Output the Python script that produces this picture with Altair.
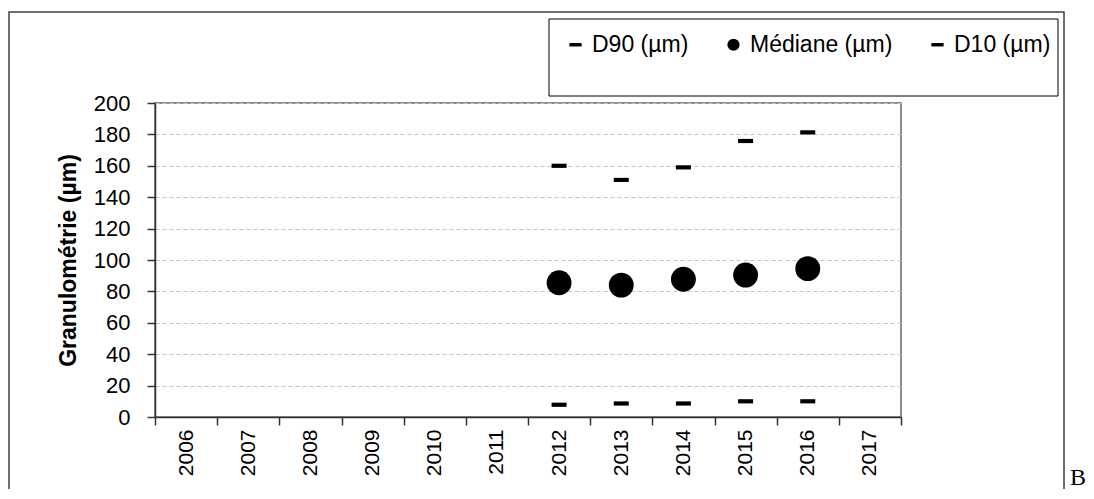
import altair as alt
import pandas as pd

annees = [str(a) for a in range(2006, 2018)]
annees_mesure = ["2012", "2013", "2014", "2015", "2016"]
d90 = [160, 151, 159, 175.8, 181.3]
mediane = [85.5, 84.0, 87.7, 90.4, 94.5]
d10 = [7.8, 8.6, 8.6, 10.0, 10.0]
series = ["D90 (µm)", "Médiane (µm)", "D10 (µm)"]

rows = []
for a, v in zip(annees_mesure, d90):
    rows.append({"annee": a, "serie": series[0], "valeur": v})
for a, v in zip(annees_mesure, mediane):
    rows.append({"annee": a, "serie": series[1], "valeur": v})
for a, v in zip(annees_mesure, d10):
    rows.append({"annee": a, "serie": series[2], "valeur": v})
df = pd.DataFrame(rows)

FONT = "Liberation Sans"
DARK = "#333333"
dash = "M-1,-0.28H1V0.28H-1Z"

x_enc = alt.X(
    "annee:O",
    scale=alt.Scale(domain=annees, paddingInner=0, paddingOuter=0),
    axis=alt.Axis(
        title=None, labelAngle=270, labelAlign="right", labelBaseline="middle",
        tickBand="extent", tickSize=8, tickColor=DARK, tickWidth=1.5,
        domainColor=DARK, domainWidth=1.5, labelFont=FONT, labelFontSize=21,
        labelColor="black", labelPadding=4, grid=False,
    ),
)
y_enc = alt.Y(
    "valeur:Q",
    scale=alt.Scale(domain=[0, 200], nice=False, zero=True),
    axis=alt.Axis(
        values=list(range(0, 201, 20)), grid=True, gridColor="#c4c4c4",
        gridDash=[4, 3], gridWidth=1, tickSize=8, tickColor=DARK, tickWidth=1.5,
        domainColor=DARK, domainWidth=1.5, labelFont=FONT, labelFontSize=22,
        labelColor="black", labelPadding=17,
        title="Granulométrie (µm)", titleFont=FONT, titleFontSize=23,
        titleFontWeight="bold", titleColor="black", titleAngle=270,
        titleX=-87, titleY=157, titleAlign="center", titleBaseline="middle",
    ),
)
legend = alt.Legend(
    title=None, orient="none", legendX=409, legendY=-70, direction="horizontal",
    columns=3, padding=0, labelFont=FONT, labelFontSize=23, labelColor="black",
    symbolSize=150, symbolFillColor="black", symbolStrokeColor="black",
    symbolStrokeWidth=0, labelOffset=5, columnPadding=33,
)
shape_enc = alt.Shape(
    "serie:N",
    scale=alt.Scale(domain=series, range=[dash, "circle", dash]),
    legend=legend,
)

one = pd.DataFrame({"k": [0]})
frame = alt.Chart(one).mark_rect(filled=False, stroke="#404040", strokeWidth=1.5).encode(
    x=alt.value(-146), x2=alt.value(909), y=alt.value(-91), y2=alt.value(420)
)
legend_box = alt.Chart(one).mark_rect(filled=False, stroke="black", strokeWidth=1).encode(
    x=alt.value(394), x2=alt.value(903), y=alt.value(-84), y2=alt.value(-7)
)
dashes = alt.Chart(df).transform_filter(
    alt.FieldOneOfPredicate(field="serie", oneOf=[series[0], series[2]])
).mark_point(filled=True, size=225, opacity=1).encode(
    x=x_enc, y=y_enc, shape=shape_enc, color=alt.value("black")
)
circles = alt.Chart(df).transform_filter(
    alt.FieldEqualPredicate(field="serie", equal=series[1])
).mark_point(filled=True, size=620, opacity=1).encode(
    x=x_enc, y=y_enc, shape=shape_enc, color=alt.value("black")
)
letter = alt.Chart(one).mark_text(
    font="Liberation Serif", fontSize=24, align="left", baseline="alphabetic", color="black"
).encode(x=alt.value(915), y=alt.value(382), text=alt.value("B"))

chart = alt.layer(frame, legend_box, dashes, circles, letter).properties(
    width=746, height=314,
    autosize=alt.AutoSizeParams(type="none"),
    padding={"left": 147, "top": 95, "right": 185, "bottom": 72},
).configure_view(stroke="#8c8c8c", strokeWidth=2)

chart.save("out.html", embed_options={"renderer": "svg", "actions": False})
